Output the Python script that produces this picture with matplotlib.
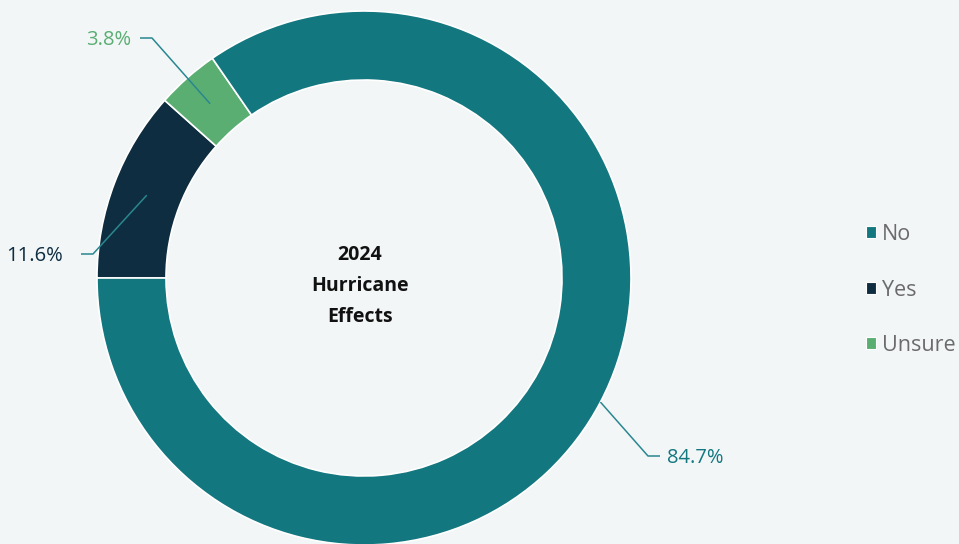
import matplotlib
matplotlib.use("Agg")
import matplotlib.pyplot as plt
import numpy as np

categories = ["No", "Yes", "Unsure"]
values = [84.7, 11.6, 3.8]
colors = ["#137780", "#0f2d40", "#5aae72"]
pct_labels = ["84.7%", "11.6%", "3.8%"]
center_title = "2024\nHurricane\nEffects"

W, H = 959, 544
bg = "#f2f6f7"
fig = plt.figure(figsize=(W / 100, H / 100), dpi=100, facecolor=bg)
ax = fig.add_axes([0, 0, 1, 1])
ax.set_facecolor(bg)

cx, cy = 364, H - 278
R = 267
width = 69

# drawing order: clockwise from the left (9 o'clock): Yes, Unsure, No
order = [1, 2, 0]
wedges, _ = ax.pie([values[i] for i in order], colors=[colors[i] for i in order],
                   startangle=180, counterclock=False, center=(cx, cy), radius=R,
                   wedgeprops=dict(width=width, edgecolor="white", linewidth=1.2),
                   frame=True)
ax.set_xlim(0, W)
ax.set_ylim(0, H)
ax.set_aspect("auto")
ax.axis("off")

wedge_by_cat = {order[k]: wedges[k] for k in range(3)}

line_color = "#2a8790"
font = "Open Sans"
settings = {
    0: dict(r0=R, elbow=(648, H - 456), end=(660, H - 456), ha="left", tx=667),
    1: dict(r0=R - width / 2, elbow=(93, H - 254), end=(81, H - 254), ha="right", tx=63),
    2: dict(r0=R - width / 2, elbow=(152, H - 38), end=(140, H - 38), ha="right", tx=131),
}
for i in range(3):
    w = wedge_by_cat[i]
    mid = np.deg2rad((w.theta1 + w.theta2) / 2)
    s = settings[i]
    x0 = cx + s["r0"] * np.cos(mid)
    y0 = cy + s["r0"] * np.sin(mid)
    ax.plot([x0, s["elbow"][0], s["end"][0]], [y0, s["elbow"][1], s["end"][1]],
            color=line_color, lw=1.1, solid_capstyle="butt")
    ax.text(s["tx"], s["end"][1] - 2, pct_labels[i], ha=s["ha"], va="center",
            fontsize=14.5, color=colors[i], family=font)

ax.text(cx - 4, cy - 8, center_title, ha="center", va="center", fontsize=14,
        fontweight="bold", color="#111111", family=font, linespacing=1.72)

leg = ax.legend([wedge_by_cat[i] for i in range(3)], categories,
                loc="center left", bbox_to_anchor=(866 / W, 1 - 290 / H),
                frameon=False, handlelength=0.48, handleheight=0.48,
                handletextpad=0.28, labelspacing=1.6, borderpad=0, borderaxespad=0,
                prop=dict(family=font, size=15.5))
for t in leg.get_texts():
    t.set_color("#6b6b6b")
for h in leg.legend_handles:
    h.set_edgecolor("white")
    h.set_linewidth(0.8)

fig.savefig("out.png", dpi=100, facecolor=bg)
